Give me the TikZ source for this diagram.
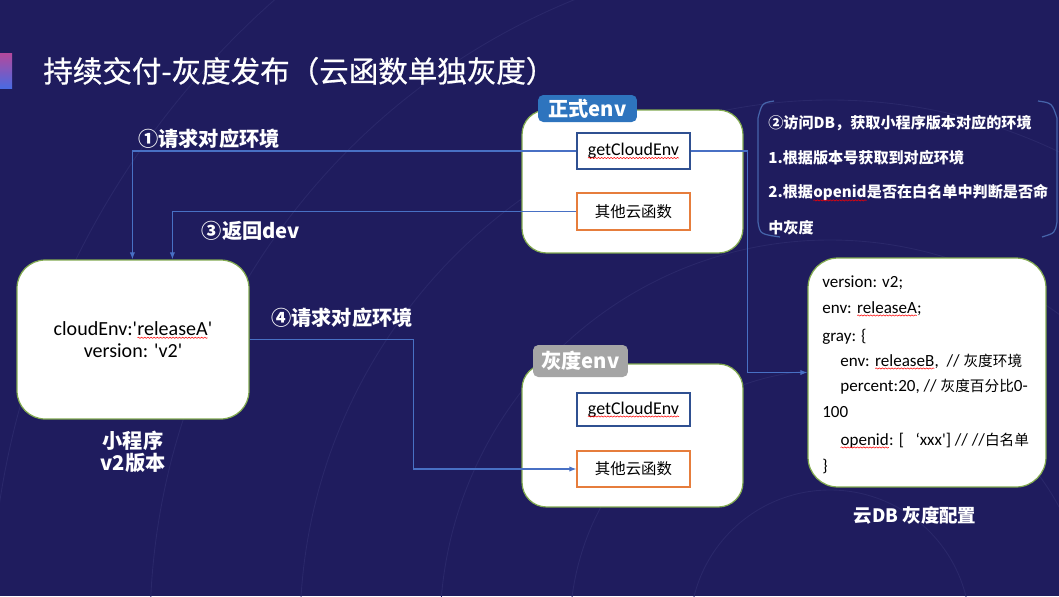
\documentclass[tikz,border=0pt]{standalone}
\usepackage{fontspec}
\setmainfont{Carlito}
\newfontfamily\cjk{Noto Sans CJK SC}
\newfontfamily\cjkhead[FakeBold=0.7]{Noto Sans CJK SC}
\newfontfamily\cjkin[Scale=0.86]{Noto Sans CJK SC}
\usetikzlibrary{arrows.meta,calc,decorations.pathmorphing}

\definecolor{bgnavy}{RGB}{31,28,94}
\definecolor{ringline}{RGB}{42,40,106}
\definecolor{boxgreen}{RGB}{130,170,80}
\definecolor{fnblue}{RGB}{47,80,145}
\definecolor{fnorange}{RGB}{230,125,60}
\definecolor{linkblue}{RGB}{72,112,196}
\definecolor{tagblue}{RGB}{46,116,190}
\definecolor{taggray}{RGB}{165,165,165}
\definecolor{barpink}{RGB}{180,72,156}
\definecolor{barblue}{RGB}{74,106,226}
\definecolor{bracecol}{RGB}{70,100,170}

% straight quote and spell-check underline
\newcommand\q{\textquotesingle}
\newcommand\wavy[1]{\tikz[baseline=(w.base), sharp corners]{\node[inner sep=0pt, outer sep=0pt, minimum width=0pt, minimum height=0pt, draw=none, fill=none] (w) {#1};
  \draw[red, line width=0.3pt, decorate, decoration={snake, amplitude=0.35pt, segment length=1.8pt}]
    ([yshift=-1.4pt]w.base west) -- ([yshift=-1.4pt]w.base east);}}

\begin{document}
\begin{tikzpicture}[x=0.02cm, y=-0.02cm]
\tikzstyle{box}=[draw=boxgreen, line width=0.7pt, fill=white, rounded corners=14pt, inner sep=0pt]
\tikzstyle{fn}=[draw=fnblue, line width=0.7pt, fill=white, inner sep=0pt, minimum width=2.26cm, font=\fontsize{10.2}{12}\selectfont]
\tikzstyle{other}=[fn, draw=fnorange]
\tikzstyle{tag}=[rounded corners=3pt, inner sep=0pt, text=white, font=\cjk\bfseries\fontsize{11.5}{13}\selectfont]
\tikzstyle{hint}=[text=white, inner sep=0pt, font=\cjk\bfseries\fontsize{11.5}{12.8}\selectfont]
\tikzstyle{note}=[text=white, inner sep=0pt, font=\cjk\bfseries\fontsize{8.6}{10}\selectfont]
\tikzstyle{dbline}=[inner sep=0pt, font=\fontsize{9.7}{12}\selectfont]
\tikzstyle{wire}=[draw=linkblue, line width=0.6pt, -{Latex[length=4pt,width=3pt]}]
\tikzstyle{ring}=[draw=ringline, line width=0.5pt]
\tikzstyle{brace}=[draw=bracecol, line width=0.7pt]

\useasboundingbox (0,0) rectangle (1059,596);
\fill[bgnavy] (0,0) rectangle (1059,596);
\begin{scope}
\clip (0,0) rectangle (1059,596);
\foreach \r in {140,260,390,530,680,840} {
\draw[ring] (830,630) circle[radius=\r];
}
\foreach \a in {95,110,125,140,155,170,65,50,35} {
\draw[ring] (830,630) -- ++(\a:1300);
}
\end{scope}
\shade[top color=barpink, bottom color=barblue] (0,53) rectangle (12,88);

\node[anchor=west, text=white, inner sep=0pt, font=\cjkhead\fontsize{16.8}{18}\selectfont] (title) at (43,71) {持续交付-灰度发布（云函数单独灰度）};

% formal env
\node[box, minimum width=4.42cm, minimum height=2.86cm] (formal) at (632.5,181.5) {};
\node[tag, fill=tagblue, minimum width=1.98cm, minimum height=0.54cm] (formaltag) at (587.5,108.5) {正式env};
\node[fn, minimum height=0.72cm] (getA) at (633.5,151) {\wavy{getCloudEnv}};
\node[other, minimum height=0.74cm] (otherA) at (633.5,211.5) {{\cjkin 其他云函数}};

% gray env
\node[box, minimum width=4.42cm, minimum height=2.86cm] (gray) at (632.5,435.5) {};
\node[tag, fill=taggray, minimum width=1.9cm, minimum height=0.64cm] (graytag) at (580.5,361) {灰度env};
\node[fn, minimum height=0.66cm] (getB) at (633.5,409.5) {\wavy{getCloudEnv}};
\node[other, minimum height=0.72cm] (otherB) at (633.5,469) {{\cjkin 其他云函数}};

% mini program
\node[box, rounded corners=16pt, minimum width=4.64cm, minimum height=3.18cm, align=center, font=\fontsize{11.4}{12.6}\selectfont] (app) at (133,339.5) {cloudEnv:\q\wavy{releaseA}\q\\version: \q v2\q};
\node[hint, align=center] (appname) at (133,452) {小程序\\v2版本};

% db config
\node[box, rounded corners=17pt, minimum width=4.76cm, minimum height=4.58cm] (db) at (927,372.5) {};
\foreach \y/\dx/\t in {287/0/{version: v2;}, 313/0/{env: \wavy{releaseA};}, 341/0/{gray: \{}, 366/1/{env: \wavy{releaseB},\ \ // {\cjkin 灰度环境}}, 391/1/{percent:20, // {\cjkin 灰度百分比}0-}, 417/0/{100}, 445/1/{\wavy{openid}: [\ \ \ ‘xxx\q] // //{\cjkin 白名单}}, 471/0/{\}}} {
\node[dbline, anchor=base west] (db\y) at (822+18*\dx,\y) {\t};
}
\node[hint, font=\cjk\bfseries\fontsize{10.5}{12}\selectfont] (dbname) at (915,515) {云DB 灰度配置};

% note
\foreach \y/\t in {123/{②访问DB，获取小程序版本对应的环境}, 158/{1.根据版本号获取到对应环境}, 193/{2.根据\wavy{openid}是否在白名单中判断是否命}, 228/{中灰度}} {
\node[note, anchor=west] (note\y) at (768,\y) {\t};
}
\draw[brace] (774,101) .. controls (762,103) .. (758,118) -- (758,222) .. controls (760,234) .. (780,237);
\draw[brace] (1038,101) .. controls (1052,103) .. (1057,118) -- (1057,222) .. controls (1055,233) .. (1042,237);

% connectors
\coordinate (app1) at ($(app.north west)+(116,0)$);
\coordinate (app3) at ($(app.north west)+(156,0)$);
\draw[wire] (getA.west) -| (app1);
\draw[wire] (getA.east) -- ++(57,0) |- (db.west);
\draw[wire] (otherA.west) -| (app3);
\draw[wire] (app.east) -- ++(164,0) |- (otherB.west);

\node[hint] (ask1) at (209,139) {①请求对应环境};
\node[hint] (back) at (251,231) {③返回dev};
\node[hint] (ask2) at (342,318) {④请求对应环境};
\end{tikzpicture}
\end{document}
